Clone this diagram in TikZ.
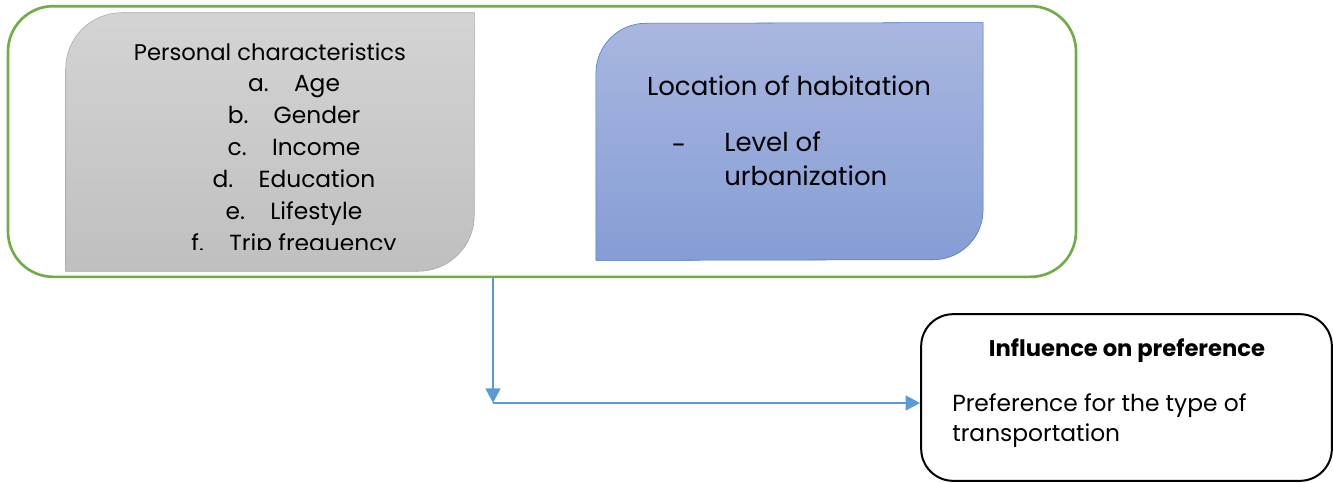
\documentclass[tikz,border=0pt]{standalone}
\usepackage{fontspec}
\setmainfont{Poppins}
\usetikzlibrary{arrows.meta}

\definecolor{framegreen}{HTML}{70AD47}
\definecolor{flowblue}{HTML}{5B9BD5}
\definecolor{edgeblue}{HTML}{4472C4}

\tikzset{
  frame/.style={draw=framegreen, line width=2pt, rounded corners=34pt},
  flow/.style={draw=flowblue, line width=2pt, -{Triangle[length=11pt,width=11pt]}},
  result/.style={draw=black, line width=1.5pt, rounded corners=24pt}
}

\begin{document}
\begin{tikzpicture}[x=0.75pt, y=0.75pt]
  \useasboundingbox (0,0) rectangle (1333,-482);

  \node[frame, minimum width=801pt, minimum height=203pt] (outer) at (542,-141.5) {};
  \node[minimum width=306pt, minimum height=193.5pt, inner sep=0pt] (pers) at (270,-142) {};
  \node[minimum width=290pt, minimum height=178pt, inner sep=0pt] (loc) at (789.5,-141.5) {};
  \node[result, minimum width=308pt, minimum height=125pt] (pref) at (1126.5,-397.5) {};

  % leaf shaped boxes
  \draw[draw=black!35, top color=black!17, bottom color=black!25]
    ([yshift=-42pt]pers.north west) arc[start angle=180, end angle=90, radius=56]
    -- (pers.north east) -- ([yshift=42pt]pers.south east)
    arc[start angle=0, end angle=-90, radius=56] -- (pers.south west) -- cycle;
  \draw[draw=edgeblue, top color={rgb,255:red,169;green,183;blue,224}, bottom color={rgb,255:red,133;green,157;blue,213}]
    ([yshift=-38pt]loc.north west) arc[start angle=180, end angle=90, radius=50]
    -- (loc.north east) -- ([yshift=38pt]loc.south east)
    arc[start angle=0, end angle=-90, radius=50] -- (loc.south west) -- cycle;

  \node[font=\fontsize{17}{20}\selectfont] (perstitle) at (270,-52) {Personal characteristics};
  \begin{scope}
    \clip (66,-60) rectangle (474,-249);
    \node[font=\fontsize{17.5}{24}\selectfont, align=center, anchor=north] (perslist) at (294,-71)
      {a.\hspace{19pt}Age\\ b.\hspace{19pt}Gender\\ c.\hspace{19pt}Income\\
       d.\hspace{19pt}Education\\ e.\hspace{19pt}Lifestyle\\ f.\hspace{19pt}Trip frequency};
  \end{scope}

  \node[font=\fontsize{19.5}{24}\selectfont] (loctitle) at (789,-86) {Location of habitation};
  \node[font=\fontsize{19.5}{24}\selectfont] (dash) at (679,-149) {-};
  \node[font=\fontsize{19.5}{26}\selectfont, align=left, anchor=north west, inner sep=0pt] (level) at (724,-131)
    {Level of\\ urbanization};

  \node[font=\fontsize{17}{20}\bfseries\selectfont] (preftitle) at (1127,-351) {Influence on preference};
  \node[font=\fontsize{17.5}{22.5}\selectfont, align=left, anchor=north west, inner sep=0pt] (preftext) at (952,-393)
    {Preference for the type of\\ transportation};

  \coordinate (bend) at (493,-403);
  \draw[flow] (outer.south -| bend) -- (bend);
  \draw[flow] (bend) -- (bend -| pref.west);
\end{tikzpicture}
\end{document}
